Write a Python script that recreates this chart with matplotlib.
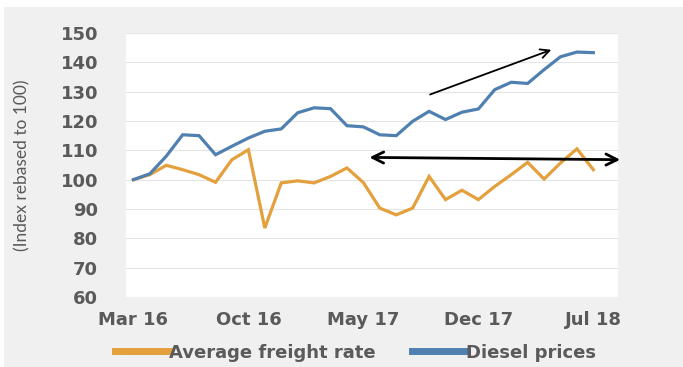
import matplotlib.pyplot as plt
from matplotlib.patches import Rectangle

months = list(range(29))
tick_pos = [0, 7, 14, 21, 28]
tick_labels = ["Mar 16", "Oct 16", "May 17", "Dec 17", "Jul 18"]

freight = [100, 101.7, 104.9, 103.4, 101.7, 99.1, 106.8, 110.2, 83.5, 98.9,
           99.6, 98.9, 101.1, 104.0, 99.0, 90.3, 88.0, 90.3, 101.1, 93.2,
           96.4, 93.2, 97.7, 101.7, 105.9, 100.2, 105.7, 110.5, 103.4]
diesel = [100, 102, 108, 115.3, 115, 108.5, 111.4, 114.2, 116.5, 117.3,
          122.8, 124.5, 124.2, 118.4, 118, 115.3, 115, 119.9, 123.3, 120.5,
          123.0, 124.1, 130.7, 133.2, 132.8, 137.5, 141.9, 143.5, 143.3]

orange = "#E3A03C"
blue = "#4F80B0"
grey_txt = "#5a5a5a"

plt.rcParams['font.family'] = ['DejaVu Sans']

fig = plt.figure(figsize=(6.83, 3.67), dpi=100, facecolor="white")
# light grey panel behind the chart
fig.patches.append(Rectangle((0.006, 0), 0.994, 1 - 7 / 367, transform=fig.transFigure,
                             facecolor="#f0f0f0", edgecolor="none", zorder=-10))

ax = fig.add_axes([126 / 683, 1 - 297 / 367, (618 - 126) / 683, (297 - 33) / 367])
ax.set_facecolor("white")
ax.plot(months, freight, color=orange, lw=2.3, label="Average freight rate", solid_joinstyle="miter")
ax.plot(months, diesel, color=blue, lw=2.3, label="Diesel prices", solid_joinstyle="miter")

ax.set_xlim(-0.45, 29.5)
ax.set_ylim(60, 150)
ax.set_yticks(range(60, 151, 10))
ax.set_xticks(tick_pos)
ax.set_xticklabels(tick_labels)
ax.tick_params(length=0, labelsize=13, labelcolor=grey_txt)
ax.tick_params(axis="x", pad=10)
ax.tick_params(axis="y", pad=20)
for lab in ax.get_xticklabels() + ax.get_yticklabels():
    lab.set_fontweight("bold")
ax.yaxis.grid(True, color="#e4e4e4", lw=0.8)
ax.set_axisbelow(True)
for s in ax.spines.values():
    s.set_visible(False)

ax.set_ylabel("(Index rebased to 100)", fontsize=12.5, color=grey_txt, family="Lato")
ax.yaxis.set_label_coords(-(126 - 30) / 492, 0.5)

# trend arrows
ax.annotate("", xy=(25.6, 144.6), xytext=(17.9, 128.7),
            arrowprops=dict(arrowstyle="->", color="black", lw=1.3, mutation_scale=16),
            annotation_clip=False)
ax.annotate("", xy=(29.8, 106.8), xytext=(14.2, 107.6),
            arrowprops=dict(arrowstyle="<->", color="black", lw=2.0, mutation_scale=20),
            annotation_clip=False)

leg = fig.legend(loc="lower center", bbox_to_anchor=(0.521, -0.03), ncol=2, frameon=False,
                 prop=dict(size=13, weight="bold"), handlelength=3.0, handletextpad=0.0,
                 columnspacing=2.0)
for line in leg.get_lines():
    line.set_linewidth(5)
for t in leg.get_texts():
    t.set_color(grey_txt)

fig.savefig("out.png", dpi=100, facecolor=fig.get_facecolor())
